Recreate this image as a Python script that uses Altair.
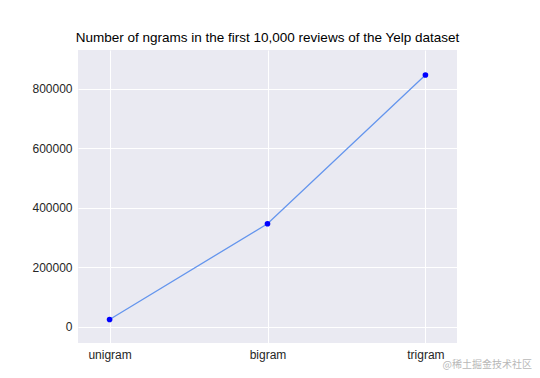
import altair as alt
import pandas as pd

categories = ["unigram", "bigram", "trigram"]
counts = [25000, 347000, 847000]
y_ticks = [0, 200000, 400000, 600000, 800000]

df = pd.DataFrame({"ngram": categories, "count": counts})

x_enc = alt.X("ngram:N", sort=categories,
              scale=alt.Scale(type="point", padding=0.2),
              axis=alt.Axis(title=None, labelAngle=0, labelPadding=6, grid=True))
y_enc = alt.Y("count:Q",
              scale=alt.Scale(domain=[-54000, 931000], nice=False, zero=False),
              axis=alt.Axis(title=None, values=y_ticks, labelPadding=6, grid=True, format="d"))

line = alt.Chart(df).mark_line(color="#6495ED", strokeWidth=1.3).encode(x=x_enc, y=y_enc)
pts = alt.Chart(df).mark_circle(color="#0000FF", opacity=1, size=32).encode(x=x_enc, y=y_enc)

watermark = alt.Chart(pd.DataFrame({"t": ["@稀土掘金技术社区"]})).mark_text(
    font="Noto Sans CJK SC", fontSize=10, color="#b8b8b8", align="right", baseline="alphabetic"
).encode(text="t:N", x=alt.value(454), y=alt.value(318))

chart = alt.layer(line, pts, watermark).properties(
    width=379, height=293,
    title=alt.Title("Number of ngrams in the first 10,000 reviews of the Yelp dataset",
                    fontSize=13.5, font="Liberation Sans", fontWeight="normal",
                    color="#000000", anchor="middle", offset=6),
    autosize=alt.AutoSizeParams(type="none"),
    padding={"left": 70, "top": 42, "right": 75, "bottom": 27},
).configure_view(
    fill="#EAEAF2", stroke=None
).configure_axis(
    domain=False, ticks=False, gridColor="#FFFFFF", gridWidth=1,
    labelFont="Liberation Sans", labelFontSize=12, labelColor="#262626"
)

chart.save("out.html", embed_options={"renderer": "svg", "actions": False})
